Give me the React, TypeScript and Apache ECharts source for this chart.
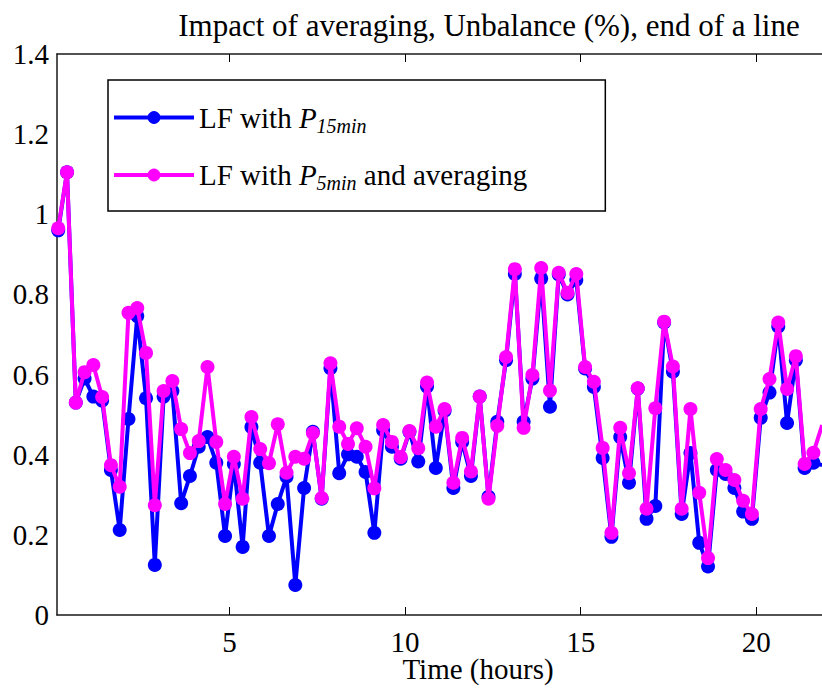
import React, { useEffect, useRef } from "react";
import * as echarts from "echarts";

const titleText = "Impact of averaging, Unbalance (%), end of a line";
const xAxisName = "Time (hours)";
const xTickValues = [5, 10, 15, 20];
const seriesNames = ["LF with P15min", "LF with P5min and averaging"];

// Unbalance (%) every 15 minutes, LF with P15min
const lf15 = [
  0.96, 1.105, 0.53, 0.59, 0.545, 0.535, 0.362, 0.212, 0.489, 0.746,
  0.541, 0.125, 0.545, 0.559, 0.279, 0.347, 0.42, 0.444, 0.38, 0.197,
  0.377, 0.17, 0.469, 0.38, 0.197, 0.277, 0.345, 0.075, 0.317, 0.457,
  0.29, 0.616, 0.354, 0.401, 0.395, 0.357, 0.205, 0.461, 0.42, 0.39,
  0.457, 0.383, 0.57, 0.367, 0.51, 0.317, 0.432, 0.347, 0.545, 0.295,
  0.482, 0.636, 0.851, 0.482, 0.59, 0.84, 0.52, 0.85, 0.8, 0.836,
  0.615, 0.569, 0.392, 0.195, 0.444, 0.33, 0.565, 0.24, 0.272, 0.73,
  0.607, 0.252, 0.404, 0.18, 0.121, 0.362, 0.352, 0.317, 0.258, 0.24,
  0.492, 0.555, 0.72, 0.479, 0.636, 0.367, 0.38, 0.374,
];

// Unbalance (%) every 15 minutes, LF with P5min and averaging
const lf5avg = [
  0.965, 1.105, 0.53, 0.606, 0.624, 0.544, 0.374, 0.32, 0.754, 0.766,
  0.654, 0.274, 0.559, 0.584, 0.464, 0.404, 0.434, 0.619, 0.432, 0.277,
  0.395, 0.29, 0.494, 0.414, 0.379, 0.476, 0.355, 0.395, 0.39, 0.454,
  0.292, 0.628, 0.47, 0.427, 0.466, 0.42, 0.316, 0.474, 0.432, 0.394,
  0.459, 0.416, 0.58, 0.47, 0.514, 0.33, 0.442, 0.358, 0.545, 0.29,
  0.472, 0.644, 0.863, 0.467, 0.599, 0.866, 0.56, 0.854, 0.804, 0.851,
  0.619, 0.582, 0.417, 0.205, 0.467, 0.354, 0.566, 0.265, 0.516, 0.732,
  0.62, 0.265, 0.514, 0.305, 0.142, 0.389, 0.362, 0.337, 0.285, 0.252,
  0.514, 0.589, 0.73, 0.564, 0.646, 0.377, 0.405, 0.474,
];

// sampling instants (hours): middle of each 15-minute interval
const hours = lf15.map((_, i) => 0.125 + 0.25 * i);

const X_MIN = 0.09;
const X_MAX = 21.87;

const FONT = "Liberation Serif";
const FS = 29;

export default function App() {
  const ref = useRef<HTMLDivElement>(null);
  useEffect(() => {
    document.body.style.margin = "0";
    if (!ref.current) return;
    const chart = echarts.init(ref.current, undefined, { renderer: "svg" });
    const axisLineStyle = { color: "#1a1a1a", width: 1.5 };
    const rich = {
      n: { fontFamily: FONT, fontSize: FS, lineHeight: 36, color: "#000" },
      i: { fontFamily: FONT, fontSize: FS, lineHeight: 36, fontStyle: "italic", color: "#000" },
      s: { fontFamily: FONT, fontSize: 20, lineHeight: 18, fontStyle: "italic", verticalAlign: "bottom", color: "#000" },
    };
    chart.setOption({
      animation: false,
      backgroundColor: "#fff",
      title: {
        text: titleText,
        left: 484,
        top: 5,
        textAlign: "center",
        textStyle: { fontFamily: FONT, fontSize: 31, fontWeight: "normal", color: "#000" },
      },
      grid: { left: 57, top: 54, right: 0, bottom: 77, containLabel: false },
      legend: {
        left: 108,
        top: 80,
        orient: "vertical",
        padding: [23, 78, 18, 4],
        itemGap: 25,
        itemWidth: 80,
        itemHeight: 16,
        borderColor: "#000",
        borderWidth: 1.5,
        backgroundColor: "#fff",
        lineStyle: { width: 4 },
        data: seriesNames,
        formatter: (name: string) =>
          name === seriesNames[0]
            ? "{n|LF with }{i|P}{s|15min}"
            : "{n|LF with }{i|P}{s|5min}{n| and averaging}",
        textStyle: { fontFamily: FONT, fontSize: FS, color: "#000", rich },
      },
      graphic: [
        {
          type: "text",
          x: 478,
          y: 669,
          style: {
            text: xAxisName,
            fontFamily: FONT,
            fontSize: FS,
            lineHeight: 26,
            fill: "#000",
            align: "center",
            verticalAlign: "middle",
          },
        },
      ],
      xAxis: [
        {
          type: "value",
          min: X_MIN,
          max: X_MAX,
          position: "bottom",
          axisLine: { show: true, onZero: false, lineStyle: axisLineStyle },
          axisTick: { show: true, inside: true, length: 8, customValues: xTickValues, lineStyle: { color: "#000", width: 1 } },
          axisLabel: { show: true, customValues: xTickValues, fontFamily: FONT, fontSize: FS, lineHeight: 22, color: "#000", margin: 16 },
          splitLine: { show: false },
        },
        {
          type: "value",
          min: X_MIN,
          max: X_MAX,
          position: "top",
          axisLine: { show: true, onZero: false, lineStyle: axisLineStyle },
          axisTick: { show: true, inside: true, length: 8, customValues: xTickValues, lineStyle: { color: "#000", width: 1 } },
          axisLabel: { show: false },
          splitLine: { show: false },
        },
      ],
      yAxis: {
        type: "value",
        min: 0,
        max: 1.4,
        interval: 0.2,
        axisLine: { show: true, lineStyle: axisLineStyle },
        axisTick: { show: false },
        axisLabel: {
          fontFamily: FONT,
          fontSize: FS,
          color: "#000",
          margin: 8,
          formatter: (v: number) => String(parseFloat(v.toFixed(1))),
        },
        splitLine: { show: false },
      },
      series: [
        {
          name: seriesNames[0],
          type: "line",
          data: hours.map((h, i) => [h, lf15[i]]),
          symbol: "circle",
          symbolSize: 14,
          showAllSymbol: true,
          clip: true,
          lineStyle: { color: "#0000ff", width: 4 },
          itemStyle: { color: "#0000ff" },
          z: 2,
        },
        {
          name: seriesNames[1],
          type: "line",
          data: hours.map((h, i) => [h, lf5avg[i]]),
          symbol: "circle",
          symbolSize: 14,
          showAllSymbol: true,
          clip: true,
          lineStyle: { color: "#ff00ff", width: 4 },
          itemStyle: { color: "#ff00ff" },
          z: 3,
        },
      ],
    });
    return () => chart.dispose();
  }, []);
  return <div ref={ref} style={{ width: 822, height: 692 }} />;
}
